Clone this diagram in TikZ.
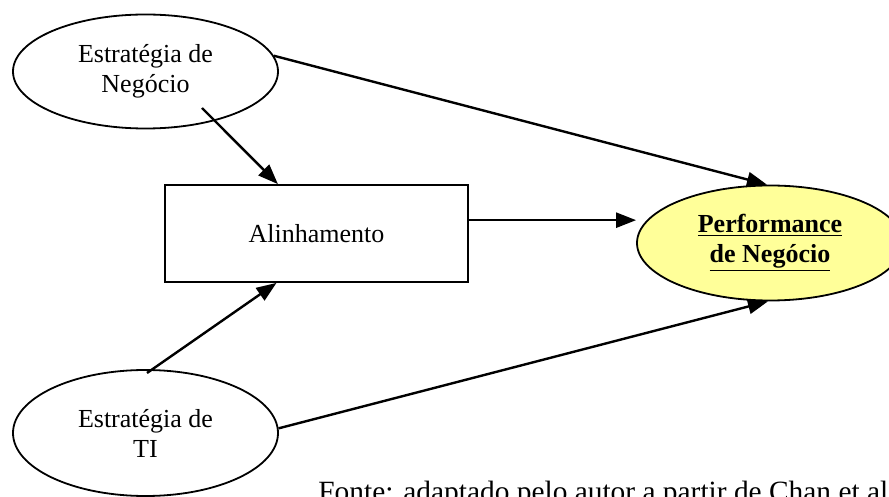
\documentclass[tikz,border=0pt]{standalone}
\usepackage{fontspec}
\setmainfont{Liberation Serif}
\usetikzlibrary{arrows.meta,shapes.geometric}
\definecolor{paleyellow}{RGB}{255,255,153}

\begin{document}
\begin{tikzpicture}[x=0.5pt,y=-0.5pt,>={Triangle[length=10pt,width=7.5pt]},
  font=\fontsize{13}{15}\selectfont,
  oval/.style={draw,ellipse,line width=0.9pt,inner sep=0pt,align=center},
  link/.style={->,line width=1.2pt}]
\useasboundingbox (0,0) rectangle (889,497);
\node[oval,minimum width=132.5pt,minimum height=57pt] (neg) at (145.5,71.5) {Estratégia de\\Negócio};
\node[oval,minimum width=132.5pt,minimum height=63pt] (ti) at (145.5,433) {Estratégia de\\TI};
\node[draw,line width=0.9pt,minimum width=151.5pt,minimum height=48.5pt] (alin) at (316.5,233.5) {Alinhamento};
\node[oval,fill=paleyellow,font=\fontsize{13}{15}\selectfont\bfseries,
  minimum width=133pt,minimum height=57.5pt] (perf) at (770,243)
  {\underline{Performance}\\\underline{de Negócio}};
% free ends inside the ovals
\coordinate (negout) at (202,108);
\coordinate (tiout) at (147,373);
\draw[link] (neg.7.6) -- (perf.93);
\draw[link] (negout) -- (alin.128.4);
\draw[link] (alin.5.1) -- (alin.5.1 -| perf.west);
\draw[link] (tiout) -- (alin.231.6);
\draw[link] (ti.2.6) -- (perf.268);
\node[anchor=base west,inner sep=0pt,font=\fontsize{14.7}{17}\selectfont] (fonte) at (318,501) {Fonte: adaptado pelo autor a partir de Chan et al};
\end{tikzpicture}
\end{document}
